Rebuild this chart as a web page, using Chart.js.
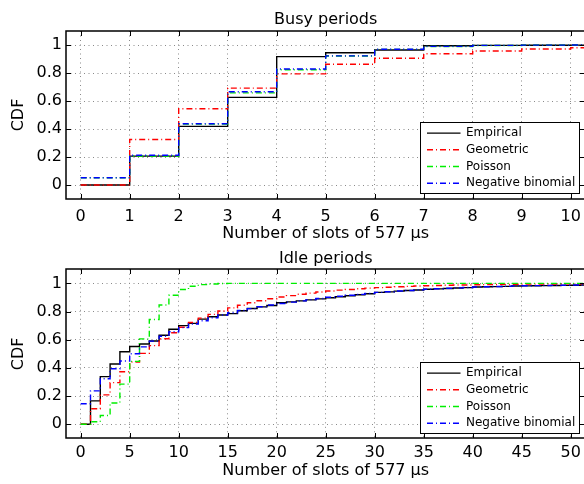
<!DOCTYPE html>
<html>
<head>
<meta charset="utf-8">
<script src="https://cdn.jsdelivr.net/npm/chart.js@4.4.1/dist/chart.umd.min.js"></script>
<style>
body{margin:0;background:#fff;overflow:hidden;width:584px;height:484px;position:relative;}
canvas{position:absolute;left:0;}
#busy{top:0;}
#idle{top:240px;}
</style>
</head>
<body>
<canvas id="busy" width="600" height="250"></canvas>
<canvas id="idle" width="600" height="244"></canvas>
<script>
const FONT = 'DejaVu Sans';

// busy periods, CDF per number of slots
const busySlots = [0, 1, 2, 3, 4, 5, 6, 7, 8, 9, 10];
const busyEmpirical = [0, 0.206, 0.419, 0.626, 0.917, 0.945, 0.964, 0.995, 0.997, 0.998, 0.999];
const busyGeometric = [0, 0.325, 0.545, 0.692, 0.794, 0.862, 0.905, 0.937, 0.957, 0.971, 0.980];
const busyPoisson = [0.052, 0.207, 0.435, 0.658, 0.823, 0.921, 0.969, 0.989, 0.996, 0.999, 1];
const busyNegBin = [0.052, 0.213, 0.438, 0.666, 0.829, 0.922, 0.970, 0.990, 0.997, 0.999, 1];
const busyXTicks = [0, 1, 2, 3, 4, 5, 6, 7, 8, 9, 10];

// idle periods
const idleSlots = [0, 1, 2, 3, 4, 5, 6, 7, 8, 9, 10, 11, 12, 13, 14, 15, 16, 17, 18, 19, 20,
	21, 22, 23, 24, 25, 26, 27, 28, 29, 30, 31, 32, 33, 34, 35, 36, 37, 38, 39, 40,
	41, 42, 43, 44, 45, 46, 47, 48, 49, 50, 51];
const idleEmpirical = [0, 0.166, 0.338, 0.428, 0.515, 0.552, 0.570, 0.591, 0.632, 0.674, 0.700,
	0.716, 0.746, 0.763, 0.776, 0.785, 0.806, 0.822, 0.833, 0.843, 0.862,
	0.869, 0.876, 0.883, 0.890, 0.898, 0.905, 0.912, 0.919, 0.926, 0.936,
	0.940, 0.945, 0.949, 0.953, 0.958, 0.961, 0.964, 0.967, 0.970, 0.974,
	0.976, 0.977, 0.979, 0.981, 0.982, 0.983, 0.984, 0.985, 0.986, 0.987, 0.988];
const idleGeometric = [0, 0.110, 0.208, 0.295, 0.373, 0.442, 0.503, 0.558, 0.607, 0.650, 0.688,
	0.722, 0.753, 0.780, 0.804, 0.826, 0.845, 0.862, 0.877, 0.891, 0.903,
	0.913, 0.923, 0.931, 0.939, 0.946, 0.952, 0.957, 0.962, 0.966, 0.970,
	0.973, 0.976, 0.979, 0.981, 0.983, 0.985, 0.987, 0.988, 0.989, 0.990,
	0.991, 0.992, 0.993, 0.994, 0.995, 0.995, 0.996, 0.996, 0.997, 0.997, 0.997];
const idlePoisson = [0, 0.017, 0.062, 0.151, 0.285, 0.446, 0.606, 0.744, 0.847, 0.916, 0.957,
	0.980, 0.991, 0.996, 0.999, 1, 1, 1, 1, 1, 1,
	1, 1, 1, 1, 1, 1, 1, 1, 1, 1,
	1, 1, 1, 1, 1, 1, 1, 1, 1, 1,
	1, 1, 1, 1, 1, 1, 1, 1, 1, 1, 1];
const idleNegBin = [0.145, 0.237, 0.323, 0.394, 0.449, 0.500, 0.549, 0.590, 0.625, 0.657, 0.686,
	0.712, 0.735, 0.756, 0.775, 0.792, 0.807, 0.821, 0.834, 0.846, 0.857,
	0.867, 0.876, 0.885, 0.893, 0.902, 0.909, 0.916, 0.922, 0.929, 0.936,
	0.941, 0.946, 0.950, 0.954, 0.958, 0.962, 0.965, 0.968, 0.971, 0.974,
	0.976, 0.978, 0.980, 0.982, 0.983, 0.984, 0.985, 0.986, 0.987, 0.988, 0.989];
const idleXTicks = [0, 5, 10, 15, 20, 25, 30, 35, 40, 45, 50];

const yTicks = [0, 0.2, 0.4, 0.6, 0.8, 1];
const seriesNames = ['Empirical', 'Geometric', 'Poisson', 'Negative binomial'];
const seriesColors = ['#000000', '#ff0000', '#00ee00', '#0000ff'];
const xTitle = 'Number of slots of 577 \u00b5s';

// stairs: value k holds on [k, k+1), last one carried to the axis end
function stairs(xs, ys, xEnd){
	var pts = xs.map(function(x, i){ return {x: x, y: ys[i]}; });
	pts.push({x: xEnd, y: ys[ys.length - 1]});
	return pts;
}

function makeDatasets(xs, series, xEnd){
	return series.map(function(ys, i){
		return {
			label: seriesNames[i],
			data: stairs(xs, ys, xEnd),
			borderColor: seriesColors[i],
			borderWidth: 1.4,
			borderDash: i == 0 ? [] : [6, 3, 1, 3],
			stepped: true,
			pointRadius: 0,
			fill: false,
			order: 3 - i
		};
	});
}

// matlab style box with inward ticks
const framePlugin = {
	id: 'frame',
	afterDatasetsDraw(chart){
		var ctx = chart.ctx, a = chart.chartArea;
		var sx = chart.scales.x, sy = chart.scales.y;
		var L = Math.round(a.left), R = Math.round(a.right), T = Math.round(a.top), B = Math.round(a.bottom);
		ctx.save();
		ctx.strokeStyle = '#000';
		ctx.lineWidth = 1.5;
		ctx.setLineDash([]);
		ctx.strokeRect(L, T, R - L, B - T);
		ctx.lineWidth = 1;
		ctx.beginPath();
		sx.ticks.forEach(function(t){
			var p = Math.round(sx.getPixelForValue(t.value)) + 0.5;
			ctx.moveTo(p, B); ctx.lineTo(p, B - 5);
			ctx.moveTo(p, T); ctx.lineTo(p, T + 5);
		});
		sy.ticks.forEach(function(t){
			var p = Math.round(sy.getPixelForValue(t.value)) + 0.5;
			ctx.moveTo(L, p); ctx.lineTo(L + 5, p);
			ctx.moveTo(R, p); ctx.lineTo(R - 5, p);
		});
		ctx.stroke();
		ctx.restore();
	}
};

const boxLegend = {
	id: 'boxLegend',
	afterDraw(chart){
		var ctx = chart.ctx, a = chart.chartArea;
		var w = 159, h = 71;
		var x0 = Math.round(a.right - 6.4 - w) + 0.5, y0 = Math.round(a.bottom - 5.7 - h) + 0.5;
		ctx.save();
		ctx.fillStyle = '#fff';
		ctx.fillRect(x0, y0, w, h);
		ctx.strokeStyle = '#000';
		ctx.lineWidth = 1;
		ctx.strokeRect(x0, y0, w, h);
		ctx.font = '12px "' + FONT + '"';
		ctx.textBaseline = 'middle';
		ctx.textAlign = 'left';
		chart.data.datasets.forEach(function(d, i){
			var yy = y0 + 10.6 + i * 16.7;
			ctx.beginPath();
			ctx.setLineDash(d.borderDash);
			ctx.strokeStyle = d.borderColor;
			ctx.lineWidth = 1.4;
			ctx.moveTo(x0 + 6.5, yy);
			ctx.lineTo(x0 + 40, yy);
			ctx.stroke();
			ctx.setLineDash([]);
			ctx.fillStyle = '#000';
			ctx.fillText(d.label, x0 + 45.5, yy);
		});
		ctx.restore();
	}
};

function makeChart(id, title, xs, series, xMin, xMax, xTicks, opt){
	return new Chart(document.getElementById(id), {
		type: 'line',
		data: { datasets: makeDatasets(xs, series, xMax + 1) },
		options: {
			responsive: false,
			animation: false,
			devicePixelRatio: 1,
			layout: { padding: { left: 0, right: 14.6, top: 0, bottom: 0 } },
			plugins: {
				legend: { display: false },
				tooltip: { enabled: false },
				title: {
					display: true,
					text: title,
					fullSize: false,
					color: '#000',
					font: { family: FONT, size: 16, weight: 'normal' },
					padding: { top: opt.titleTop, bottom: opt.titleBottom }
				}
			},
			scales: {
				x: {
					type: 'linear',
					min: xMin,
					max: xMax,
					afterFit: function(s){ s.height = opt.xHeight; },
					afterBuildTicks: function(s){ s.ticks = xTicks.map(function(v){ return {value: v}; }); },
					ticks: {
						color: '#000',
						padding: opt.xTickPad,
						maxRotation: 0,
						autoSkip: false,
						font: { family: FONT, size: 16 },
						callback: function(v){ return String(v); }
					},
					grid: { color: '#8a8a8a', lineWidth: 1, drawTicks: false },
					border: { display: false, dash: [1, 3.5] },
					title: {
						display: true,
						text: xTitle,
						color: '#000',
						font: { family: FONT, size: 16 },
						padding: { top: 0, bottom: opt.xTitlePad }
					}
				},
				y: {
					min: -0.1,
					max: 1.1,
					afterFit: function(s){ s.width = 66; },
					afterBuildTicks: function(s){ s.ticks = yTicks.map(function(v){ return {value: v}; }); },
					ticks: {
						color: '#000',
						padding: 4,
						autoSkip: false,
						font: { family: FONT, size: 16 },
						callback: function(v){ return String(v); }
					},
					grid: { color: '#8a8a8a', lineWidth: 1, drawTicks: false },
					border: { display: false, dash: [1, 3.5] },
					title: {
						display: true,
						text: 'CDF',
						color: '#000',
						font: { family: FONT, size: 16 },
						padding: { top: 9.4, bottom: 0 }
					}
				}
			}
		},
		plugins: [framePlugin, boxLegend]
	});
}

makeChart('busy', 'Busy periods', busySlots,
	[busyEmpirical, busyGeometric, busyPoisson, busyNegBin], -0.3, 10.3, busyXTicks,
	{ titleTop: 10.4, titleBottom: 1.4, xHeight: 51, xTickPad: 8, xTitlePad: 6.4 });

makeChart('idle', 'Idle periods', idleSlots,
	[idleEmpirical, idleGeometric, idlePoisson, idleNegBin], -1.5, 51.5, idleXTicks,
	{ titleTop: 8.9, titleBottom: 1.2, xHeight: 45.7, xTickPad: 5, xTitlePad: 3.9 });
</script>
</body>
</html>
